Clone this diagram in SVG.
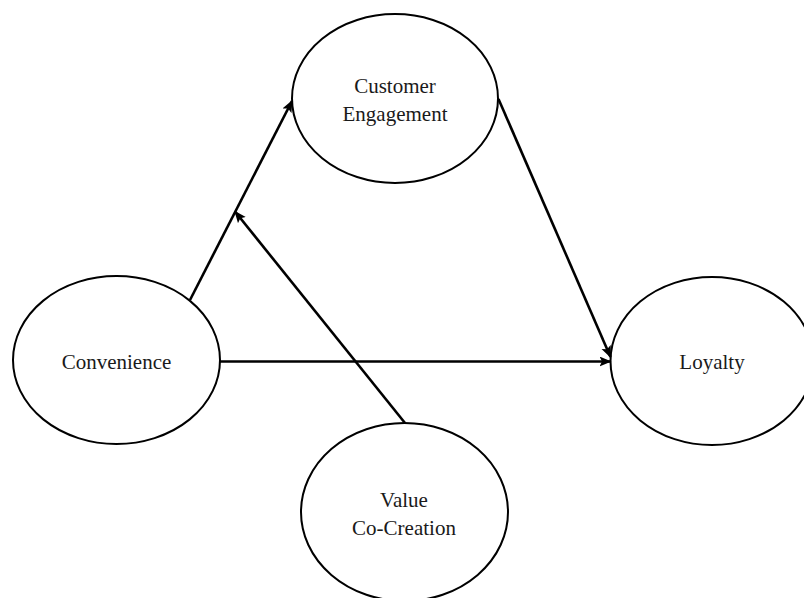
<svg xmlns="http://www.w3.org/2000/svg" width="804" height="598" viewBox="0 0 804 598">
  <style>
    .node { fill: #ffffff; stroke: #000000; stroke-width: 2; }
    .label { font-family: "Liberation Serif", "Times New Roman", serif; font-size: 21px; fill: #1a1a1a; text-anchor: middle; }
    .edge { fill: none; stroke: #000000; stroke-width: 2.6; marker-end: url(#head); }
  </style>
  <defs>
    <marker id="head" markerUnits="userSpaceOnUse" markerWidth="13" markerHeight="11" refX="11" refY="5" orient="auto" viewBox="0 0 13 11">
      <path d="M0,0 L12,5 L0,10 L2.5,5 z" fill="#000000"/>
    </marker>
  </defs>
  <rect width="804" height="598" fill="#ffffff"/>

  <g id="customer-engagement">
    <ellipse class="node" cx="395" cy="98.5" rx="103" ry="84.5"/>
    <text class="label" x="395" y="93">Customer</text>
    <text class="label" x="395" y="121">Engagement</text>
  </g>

  <g id="convenience">
    <ellipse class="node" cx="116.5" cy="360" rx="103.5" ry="84"/>
    <text class="label" x="116.5" y="369">Convenience</text>
  </g>

  <g id="loyalty">
    <ellipse class="node" cx="712" cy="361" rx="101.5" ry="84"/>
    <text class="label" x="712" y="369">Loyalty</text>
  </g>

  <g id="value-co-creation">
    <ellipse class="node" cx="404.5" cy="512" rx="103.5" ry="89"/>
    <text class="label" x="404" y="507">Value</text>
    <text class="label" x="404" y="535">Co-Creation</text>
  </g>

  <g id="connectors">
    <line class="edge" x1="190" y1="300" x2="292" y2="101"/>
    <line class="edge" x1="405" y1="423" x2="235" y2="211.5"/>
    <line class="edge" x1="498.5" y1="99" x2="610.5" y2="357"/>
    <line class="edge" x1="220" y1="361.5" x2="610.5" y2="361.5"/>
  </g>
</svg>
